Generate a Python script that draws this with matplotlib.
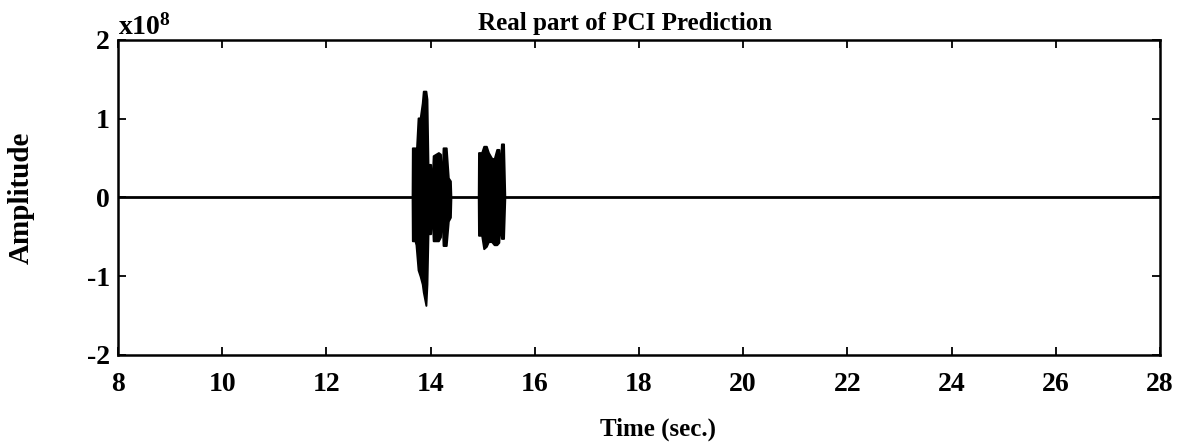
import numpy as np
import matplotlib
matplotlib.use('Agg')
import matplotlib.pyplot as plt

plt.rcParams['font.family'] = ['Liberation Serif', 'DejaVu Serif']
plt.rcParams['font.weight'] = 'bold'
plt.rcParams['mathtext.fontset'] = 'custom'
plt.rcParams['mathtext.rm'] = 'Liberation Serif:bold'
plt.rcParams['mathtext.it'] = 'Liberation Serif:bold'
plt.rcParams['mathtext.bf'] = 'Liberation Serif:bold'

# flat part of the prediction (amplitude in units of 1e8)
t_span = [8, 28]
amp_flat = [0, 0]

# first burst: time (sec.) and upper / lower envelope (x1e8)
t_burst1 = [13.645, 13.65, 13.70, 13.72, 13.76, 13.80, 13.84, 13.86, 13.91, 13.93,
            13.95, 14.00, 14.02, 14.05, 14.10, 14.15, 14.19, 14.21, 14.24, 14.30,
            14.34, 14.38, 14.39]
hi_burst1 = [0.0, 0.63, 0.63, 0.50, 1.01, 1.01, 1.20, 1.35, 1.35, 1.25,
             0.42, 0.42, 0.05, 0.53, 0.55, 0.57, 0.55, 0.05, 0.63, 0.63,
             0.25, 0.21, 0.0]
lo_burst1 = [0.0, -0.55, -0.55, -0.60, -0.92, -1.00, -1.10, -1.20, -1.37, -1.10,
             -0.46, -0.46, -0.05, -0.55, -0.55, -0.55, -0.50, -0.05, -0.61, -0.61,
             -0.30, -0.25, 0.0]

# second burst
t_burst2 = [14.915, 14.92, 14.98, 15.02, 15.07, 15.11, 15.17, 15.22, 15.27, 15.31,
            15.33, 15.36, 15.40, 15.425]
hi_burst2 = [0.0, 0.57, 0.57, 0.65, 0.65, 0.57, 0.50, 0.49, 0.61, 0.61,
             0.30, 0.68, 0.68, 0.0]
lo_burst2 = [0.0, -0.48, -0.48, -0.65, -0.62, -0.56, -0.56, -0.60, -0.60, -0.57,
             -0.30, -0.52, -0.52, 0.0]

xticks = [8, 10, 12, 14, 16, 18, 20, 22, 24, 26, 28]
yticks = [-2, -1, 0, 1, 2]

fig = plt.figure(figsize=(11.8, 4.44), dpi=100)
ax = fig.add_axes([0.1, 0.2005, 0.883, 0.7095])

ax.plot(t_span, amp_flat, color='black', lw=2.0)
ax.fill_between(t_burst1, lo_burst1, hi_burst1, color='black', lw=1.4)
ax.fill_between(t_burst2, lo_burst2, hi_burst2, color='black', lw=1.4)

ax.set_xlim(8, 28)
ax.set_ylim(-2, 2)
ax.set_xticks(xticks)
ax.set_yticks(yticks)
ax.set_xticklabels([str(v) for v in xticks])
ax.set_yticklabels([str(v) for v in yticks])

for s in ax.spines.values():
    s.set_linewidth(1.8)
ax.tick_params(direction='in', top=True, right=True, length=6, width=1.3,
               labelsize=20)
ax.tick_params(axis='x', pad=12)
ax.tick_params(axis='y', pad=6)

ax.set_xlabel('Time (sec.)', fontsize=18, fontweight='bold')
ax.xaxis.set_label_coords(0.518, -0.2)
ax.set_ylabel('Amplitude', fontsize=21, fontweight='bold')
ax.yaxis.set_label_coords(-0.0800, 0.5)

ax.text(0.487, 1.032, 'Real part of PCI Prediction', transform=ax.transAxes,
        ha='center', va='baseline', fontsize=18, fontweight='bold')
ax.text(0.0, 1.016, r'x10$^{8}$', transform=ax.transAxes,
        ha='left', va='baseline', fontsize=20, fontweight='bold')

fig.savefig('out.png', dpi=100)
